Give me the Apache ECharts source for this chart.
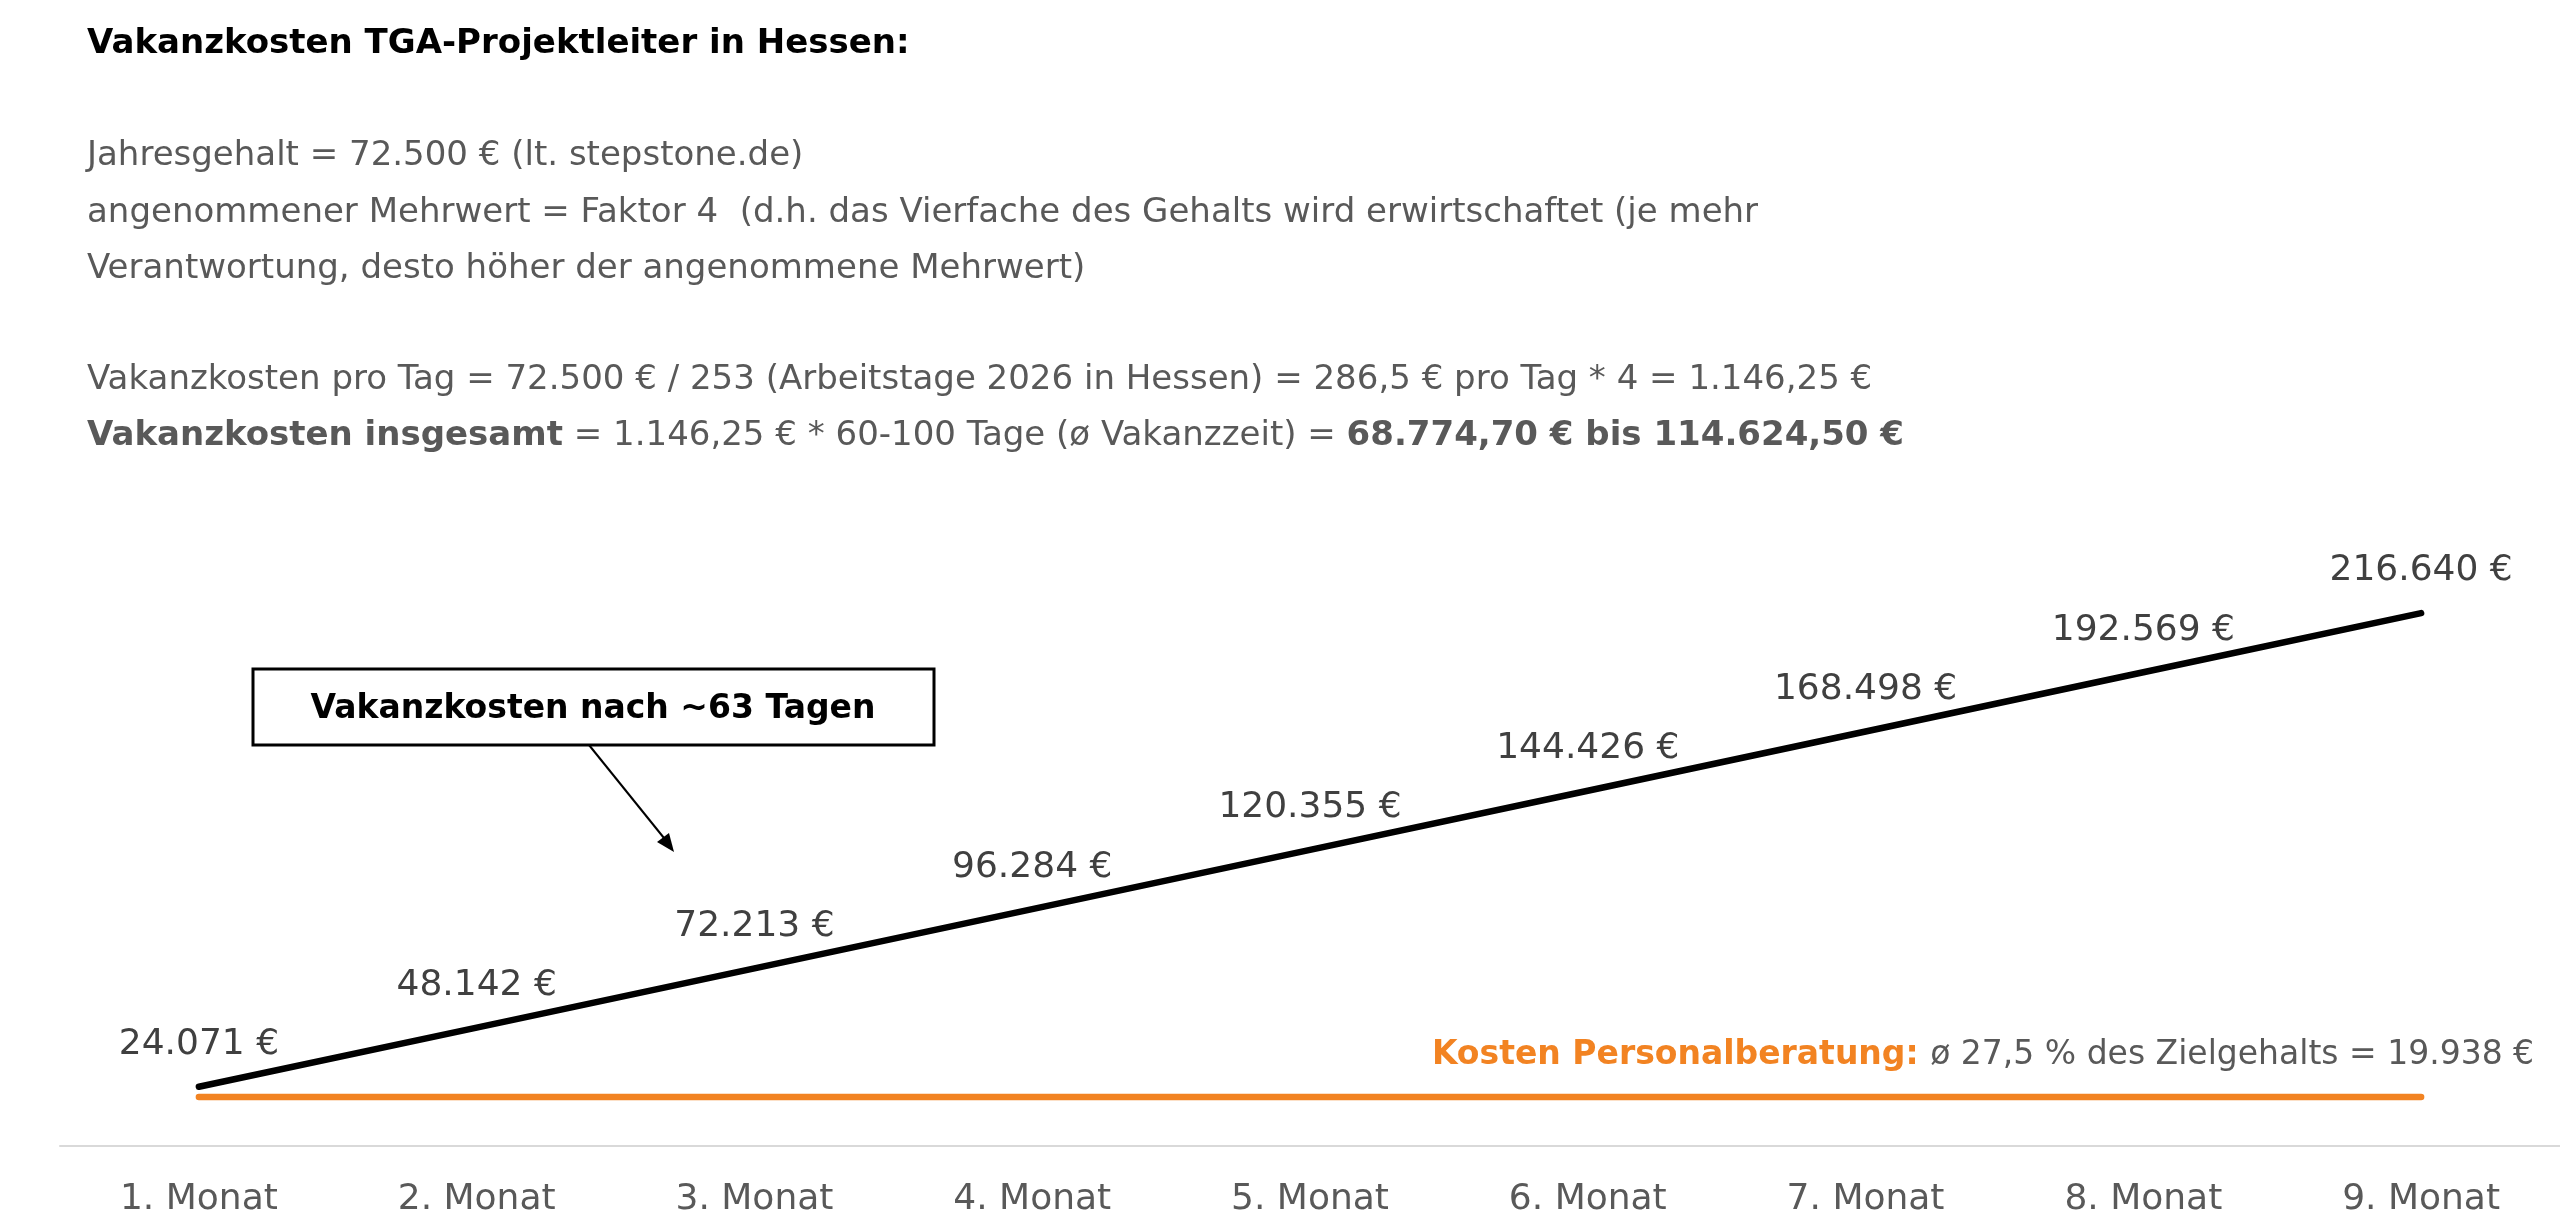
<!DOCTYPE html>
<html>
<head>
<meta charset="utf-8">
<script src="https://cdn.jsdelivr.net/npm/echarts@6/dist/echarts.min.js"></script>
<style>
  html, body { margin: 0; padding: 0; background: #fff; }
  #chart { width: 2560px; height: 1223px; }
</style>
</head>
<body>
<div id="chart"></div>
<script>
var months = ['1. Monat', '2. Monat', '3. Monat', '4. Monat', '5. Monat', '6. Monat', '7. Monat', '8. Monat', '9. Monat'];
var vakanzkosten = [24071, 48142, 72213, 96284, 120355, 144426, 168498, 192569, 216640];
var beratungskosten = [19938, 19938, 19938, 19938, 19938, 19938, 19938, 19938, 19938];

var FONT = 'DejaVu Sans';
var GRAY = '#595959';
var ORANGE = '#F28322';

function euro(v) {
    return String(v).replace(/\B(?=(\d{3})+(?!\d))/g, '.') + ' €';
}

var myChart = echarts.init(document.getElementById('chart'));

var option = {
    backgroundColor: '#fff',
    animation: false,
    grid: { left: 60, right: 0, top: 531, bottom: 77 },
    xAxis: {
        type: 'category',
        data: months,
        boundaryGap: true,
        axisLine: { lineStyle: { color: '#d9d9d9', width: 2 } },
        axisTick: { show: false },
        axisLabel: { color: GRAY, fontFamily: FONT, fontSize: 36, margin: 36 }
    },
    yAxis: {
        type: 'value',
        min: 0,
        max: 250000,
        show: false
    },
    series: [
        {
            name: 'Vakanzkosten',
            type: 'line',
            data: vakanzkosten,
            symbol: 'circle',
            symbolSize: 0,
            showSymbol: true,
            lineStyle: { color: '#000', width: 6.5, cap: 'round' },
            label: {
                show: true,
                position: 'top',
                distance: 24,
                color: '#404040',
                fontFamily: FONT,
                fontSize: 36,
                formatter: function (p) { return euro(p.value); }
            }
        },
        {
            name: 'Kosten Personalberatung',
            type: 'line',
            data: beratungskosten.map(function (v, i) {
                if (i === beratungskosten.length - 1) {
                    return {
                        value: v,
                        label: {
                            show: true,
                            position: 'top',
                            align: 'right',
                            offset: [113, -20],
                            formatter: '{b|Kosten Personalberatung: }{n|ø 27,5 % des Zielgehalts = ' + euro(v) + '}',
                            rich: {
                                b: { color: ORANGE, fontWeight: 'bold', fontSize: 33, fontFamily: FONT },
                                n: { color: GRAY, fontSize: 33, fontFamily: FONT }
                            }
                        }
                    };
                }
                return v;
            }),
            symbol: 'circle',
            symbolSize: 0,
            showSymbol: true,
            lineStyle: { color: ORANGE, width: 6.5, cap: 'round' },
            z: 1
        }
    ],
    graphic: [
        {
            type: 'text', left: 87, top: 27,
            style: { text: 'Vakanzkosten TGA-Projektleiter in Hessen:', fill: '#000', font: 'bold 34px "DejaVu Sans"' }
        },
        {
            type: 'text', left: 87, top: 139,
            style: { text: 'Jahresgehalt = 72.500 € (lt. stepstone.de)', fill: GRAY, font: '34px "DejaVu Sans"' }
        },
        {
            type: 'text', left: 87, top: 196,
            style: { text: 'angenommener Mehrwert = Faktor 4  (d.h. das Vierfache des Gehalts wird erwirtschaftet (je mehr', fill: GRAY, font: '34px "DejaVu Sans"' }
        },
        {
            type: 'text', left: 87, top: 252,
            style: { text: 'Verantwortung, desto höher der angenommene Mehrwert)', fill: GRAY, font: '34px "DejaVu Sans"' }
        },
        {
            type: 'text', left: 87, top: 363,
            style: { text: 'Vakanzkosten pro Tag = 72.500 € / 253 (Arbeitstage 2026 in Hessen) = 286,5 € pro Tag * 4 = 1.146,25 €', fill: GRAY, font: '34px "DejaVu Sans"' }
        },
        {
            type: 'text', left: 87, top: 419,
            style: {
                text: '{b|Vakanzkosten insgesamt}{n| = 1.146,25 € * 60-100 Tage (ø Vakanzzeit) = }{b|68.774,70 € bis 114.624,50 €}',
                rich: {
                    b: { fill: GRAY, font: 'bold 34px "DejaVu Sans"' },
                    n: { fill: GRAY, font: '34px "DejaVu Sans"' }
                }
            }
        },
        {
            type: 'rect',
            shape: { x: 253, y: 669, width: 681, height: 76 },
            style: { fill: '#fff', stroke: '#000', lineWidth: 3 }
        },
        {
            type: 'text',
            x: 593, y: 709,
            style: {
                text: 'Vakanzkosten nach ~63 Tagen',
                fill: '#000',
                font: 'bold 33px "DejaVu Sans"',
                textAlign: 'center',
                textVerticalAlign: 'middle'
            }
        },
        {
            type: 'line',
            shape: { x1: 589, y1: 745, x2: 668, y2: 843 },
            style: { stroke: '#000', lineWidth: 2 }
        },
        {
            type: 'polygon',
            shape: { points: [[674, 852], [657, 842], [669, 833]] },
            style: { fill: '#000' }
        }
    ]
};

myChart.setOption(option);
</script>
</body>
</html>
